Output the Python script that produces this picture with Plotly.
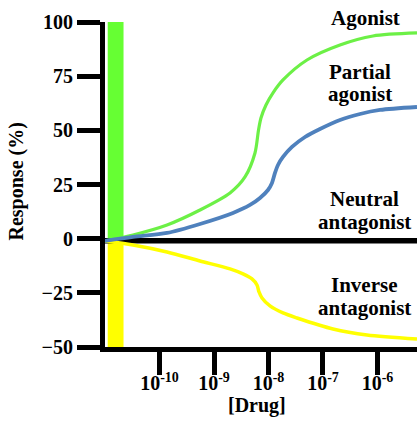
import plotly.graph_objects as go

# log10 of drug concentration (M) and response (%)
agonist_logc = [-11.0, -10.486, -9.862, -9.257, -8.706, -8.431, -8.248, -8.183, -8.138, -8.046,
                -7.917, -7.734, -7.294, -6.688, -6.083, -5.275]
agonist_resp = [-1.06, 1.71, 6.32, 13.24, 21.09, 28.47, 39.55, 50.16, 55.70, 61.70,
                67.31, 73.24, 82.46, 89.39, 93.55, 94.94]

partial_logc = [-11.0, -10.486, -9.862, -9.257, -8.651, -8.339, -8.156, -8.009, -7.936, -7.881,
                -7.826, -7.734, -7.569, -7.330, -7.055, -6.688, -6.321, -5.954, -5.275]
partial_resp = [-1.06, 0.78, 2.63, 6.78, 11.86, 15.55, 18.78, 22.47, 25.70, 30.32,
                34.01, 37.70, 42.32, 46.93, 50.62, 54.78, 57.54, 59.39, 60.77]

neutral_logc = [-11.0, -5.275]
neutral_resp = [-1, -1]

inverse_logc = [-11.0, -10.486, -9.862, -9.257, -8.706, -8.468, -8.303, -8.211, -8.174, -8.119,
                -7.972, -7.734, -7.477, -6.817, -6.193, -5.275]
inverse_resp = [-1.06, -2.91, -6.14, -10.29, -13.98, -16.29, -18.60, -21.37, -24.60, -27.37,
                -31.06, -34.29, -36.60, -41.67, -44.44, -46.28]

# basal-activity bars near the left axis
bar_logc = [-10.95, -10.66]
green_bar = [0, 100]
yellow_bar = [-50, -1.5]

x_tickvals_log = [-10, -9, -8, -7, -6]
x_ticktext = ["10<sup>-10</sup>", "10<sup>-9</sup>", "10<sup>-8</sup>", "10<sup>-7</sup>", "10<sup>-6</sup>"]
y_tickvals = [-50, -25, 0, 25, 50, 75, 100]

FONT = "Liberation Serif"

def c(v):
    return [10 ** a for a in v]

fig = go.Figure()

def bar(ylims, color):
    x0, x1 = c(bar_logc)
    fig.add_trace(go.Scatter(x=[x0, x1, x1, x0, x0], y=[ylims[0], ylims[0], ylims[1], ylims[1], ylims[0]],
                             mode="lines", fill="toself", fillcolor=color, line=dict(width=0),
                             hoverinfo="skip", showlegend=False))

bar(green_bar, "#66FF33")
bar(yellow_bar, "#FFFF00")

fig.add_trace(go.Scatter(x=c(neutral_logc), y=neutral_resp, mode="lines",
                         line=dict(color="black", width=5.5), showlegend=False))
fig.add_trace(go.Scatter(x=c(inverse_logc), y=inverse_resp, mode="lines",
                         line=dict(color="#FFFF00", width=3.5, shape="spline", smoothing=0.8), showlegend=False))
fig.add_trace(go.Scatter(x=c(agonist_logc), y=agonist_resp, mode="lines",
                         line=dict(color="#6CF046", width=3.2, shape="spline", smoothing=0.8), showlegend=False))
fig.add_trace(go.Scatter(x=c(partial_logc), y=partial_resp, mode="lines",
                         line=dict(color="#4F81BD", width=3.8, shape="spline", smoothing=0.8), showlegend=False))

tickfont = dict(family=FONT, size=20, color="black", weight="bold")

fig.update_xaxes(type="log", range=[-11.0, -5.275], tickvals=c(x_tickvals_log), ticktext=x_ticktext,
                 showgrid=False, zeroline=False, showline=True, linecolor="black", linewidth=5,
                 ticks="outside", ticklen=23, tickwidth=5, tickcolor="black", tickfont=tickfont,
                 ticklabelstandoff=-9)
fig.update_yaxes(range=[-50, 100], tickvals=y_tickvals, showgrid=False, zeroline=False,
                 showline=True, linecolor="black", linewidth=5,
                 ticks="outside", ticklen=23, tickwidth=5, tickcolor="black", tickfont=tickfont)

L, R, T, B = 105, 0, 22, 74
W, H = 417, 421
pw, ph = W - L - R, H - T - B

def px(x):
    return (x - L) / pw

def py(y):
    return (H - B - y) / ph

labels = [
    ("Agonist", 365, 18),
    ("Partial", 360, 72),
    ("agonist", 360, 94),
    ("Neutral", 364, 199),
    ("antagonist", 364, 222),
    ("Inverse", 364, 285),
    ("antagonist", 364, 308),
]
LABEL_FONT = dict(family=FONT, size=21, color="black", weight="bold")
ann = []
for text, x, y in labels:
    ann.append(dict(text=text, x=px(x), y=py(y), xref="paper", yref="paper", showarrow=False,
                    xanchor="center", yanchor="middle", font=LABEL_FONT))
ann.append(dict(text="Response (%)", x=px(16), y=py(181.5), xref="paper", yref="paper", showarrow=False,
                xanchor="center", yanchor="middle", textangle=-90,
                font=dict(family=FONT, size=20, color="black", weight="bold")))
ann.append(dict(text="[Drug]", x=px(257), y=py(405), xref="paper", yref="paper", showarrow=False,
                xanchor="center", yanchor="middle",
                font=dict(family=FONT, size=20, color="black", weight="bold")))

fig.update_layout(width=W, height=H, margin=dict(l=L, r=R, t=T, b=B, pad=0),
                  paper_bgcolor="white", plot_bgcolor="white", annotations=ann)

fig.write_html("out.html", config={"displayModeBar": False},
               post_script="document.body.style.margin='0px';")
